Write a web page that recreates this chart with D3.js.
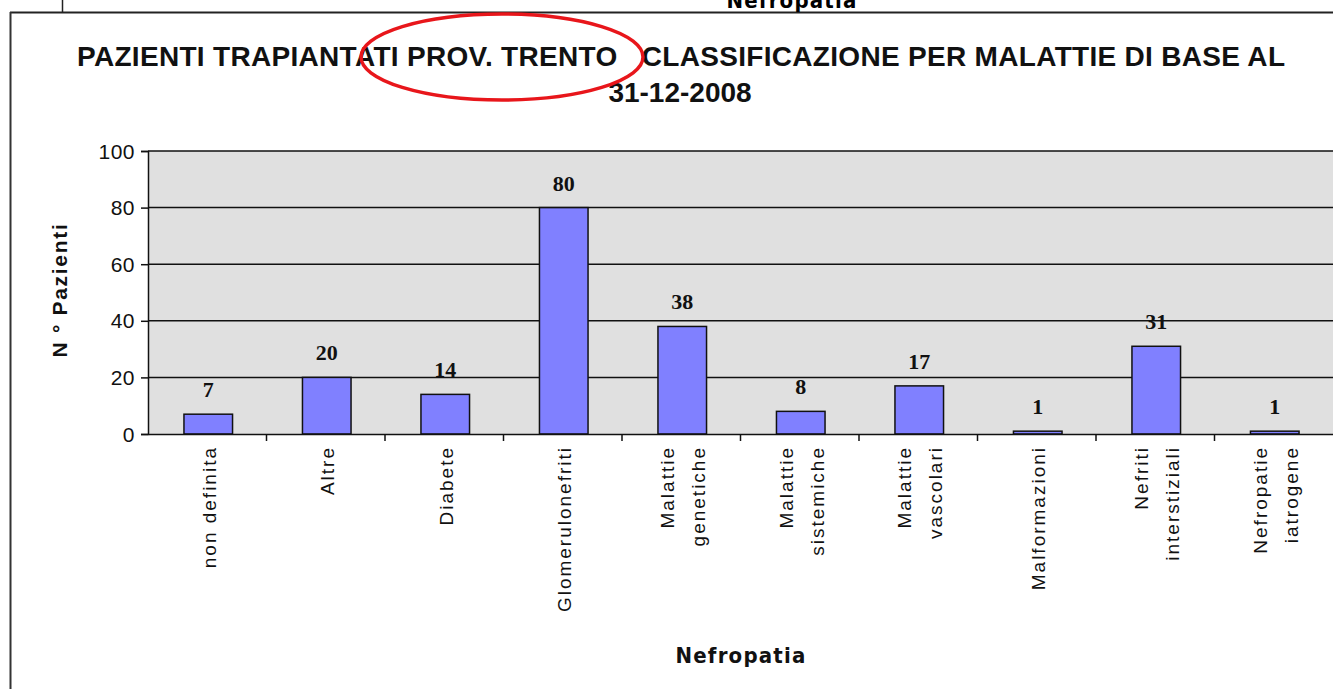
<!DOCTYPE html>
<html><head><meta charset="utf-8">
<script src="https://cdn.jsdelivr.net/npm/d3@7"></script>
<style>html,body{margin:0;padding:0;background:#fff;}svg{display:block;}</style>
</head><body>
<svg id="chart" width="1333" height="689"></svg>
<script>
const categories = [["non definita"],["Altre"],["Diabete"],["Glomerulonefriti"],["Malattie","genetiche"],["Malattie","sistemiche"],["Malattie","vascolari"],["Malformazioni"],["Nefriti","interstiziali"],["Nefropatie","iatrogene"]];
const values = [7,20,14,80,38,8,17,1,31,1];
const yTicks = [0,20,40,60,80,100];
const titleLines = ["PAZIENTI TRAPIANTATI PROV. TRENTO   CLASSIFICAZIONE PER MALATTIE DI BASE AL","31-12-2008"];
const yTitle = "N ° Pazienti";
const xTitle = "Nefropatia";

const svg = d3.select("#chart");
const L = 148, R = 1333, T = 151, B = 434;
const keys = categories.map((c,i)=>i);
const x = d3.scaleBand().domain(keys).range([L,R]).paddingInner(0.59).paddingOuter(0.295);
const xb = d3.scaleBand().domain(keys).range([L,R]).padding(0);
const y = d3.scaleLinear().domain([0,100]).range([B,T]);

// outer frame
svg.append("line").attr("x1",10).attr("x2",1333).attr("y1",12.5).attr("y2",12.5).attr("stroke","#222").attr("stroke-width",2);
svg.append("line").attr("x1",10.5).attr("x2",10.5).attr("y1",12).attr("y2",689).attr("stroke","#333").attr("stroke-width",2);
svg.append("line").attr("x1",62.5).attr("x2",62.5).attr("y1",0).attr("y2",12).attr("stroke","#222").attr("stroke-width",1.5);
svg.append("text").attr("x",792).attr("y",8).attr("text-anchor","middle").attr("font-family","DejaVu Sans Condensed, Liberation Sans, sans-serif").attr("font-weight","bold").attr("font-size",22).attr("letter-spacing",1.2).text(xTitle);

// plot background
svg.append("rect").attr("x",L).attr("y",T).attr("width",R-L).attr("height",B-T).attr("fill","#E0E0E0");

// gridlines
svg.append("g").selectAll("line").data(yTicks.filter(d=>d>0)).join("line")
  .attr("x1",L).attr("x2",R).attr("y1",d=>y(d)).attr("y2",d=>y(d))
  .attr("stroke","#111").attr("stroke-width",1.5);

// bars
svg.append("g").selectAll("rect").data(values).join("rect")
  .attr("x",(d,i)=>x(i)+1).attr("width",x.bandwidth())
  .attr("y",d=>y(d)).attr("height",d=>B-y(d))
  .attr("fill","#8080FF").attr("stroke","#111").attr("stroke-width",1.5);

// value labels
svg.append("g").selectAll("text").data(values).join("text")
  .attr("x",(d,i)=>x(i)+1+x.bandwidth()/2).attr("y",d=>y(d)-17)
  .attr("text-anchor","middle").attr("font-family","Liberation Serif, serif")
  .attr("font-weight","bold").attr("font-size",22).attr("fill","#111").text(d=>d);

// y axis
const yAxis = svg.append("g").attr("transform",`translate(${L},0)`)
  .call(d3.axisLeft(y).tickValues(yTicks).tickSize(7).tickPadding(6));
yAxis.select(".domain").attr("stroke","#111").attr("stroke-width",1.5);
yAxis.selectAll(".tick line").attr("stroke","#111").attr("stroke-width",1.5);
yAxis.selectAll(".tick text").attr("font-family","Liberation Sans, Arial, sans-serif").attr("font-size",21).attr("letter-spacing",0.5).attr("fill","#111").attr("dy","0.34em");

// x axis
const xAxis = svg.append("g").attr("transform",`translate(0,${B})`)
  .call(d3.axisBottom(xb).tickSize(0).tickFormat(""));
xAxis.select(".domain").attr("stroke","#111").attr("stroke-width",1.5);
xAxis.selectAll(".tick").remove();
svg.append("g").selectAll("line").data(keys.slice(1)).join("line")
  .attr("x1",d=>xb(d)).attr("x2",d=>xb(d)).attr("y1",B).attr("y2",B+7)
  .attr("stroke","#111").attr("stroke-width",1.5);

// x labels
const lab = svg.append("g").selectAll("g").data(categories).join("g")
  .attr("transform",(d,i)=>`translate(${xb(i)+xb.bandwidth()/2+2},446) rotate(-90)`);
lab.each(function(d){
  const g = d3.select(this);
  const n = d.length, gap = 31;
  d.forEach((t,j)=>{
    g.append("text").attr("x",0).attr("y",(j-(n-1)/2)*gap).attr("dy","0.35em")
      .attr("text-anchor","end").attr("font-family","Liberation Sans, Arial, sans-serif")
      .attr("font-size",19).attr("letter-spacing",2).attr("fill","#111").text(t);
  });
});

// titles
const tt = svg.append("text").attr("text-anchor","middle").attr("font-family","Liberation Sans, Arial, sans-serif")
  .attr("font-weight","bold").attr("font-size",28).attr("fill","#111").style("white-space","pre");
tt.append("tspan").attr("x",681).attr("y",66).attr("textLength",1208).attr("lengthAdjust","spacing").style("white-space","pre").text(titleLines[0]);
tt.append("tspan").attr("x",680).attr("y",102).text(titleLines[1]);

svg.append("text").attr("transform","translate(67,290) rotate(-90)").attr("text-anchor","middle")
  .attr("font-family","Liberation Sans, Arial, sans-serif").attr("font-weight","bold").attr("font-size",21).attr("letter-spacing",1.7).attr("fill","#111").text(yTitle);
svg.append("text").attr("x",741).attr("y",663).attr("text-anchor","middle")
  .attr("font-family","DejaVu Sans Condensed, Liberation Sans, sans-serif").attr("font-weight","bold").attr("font-size",22).attr("letter-spacing",1.2).attr("fill","#111").text(xTitle);

// red ellipse annotation
svg.append("ellipse").attr("cx",502).attr("cy",57).attr("rx",141).attr("ry",43)
  .attr("fill","none").attr("stroke","#E8161B").attr("stroke-width",3.5);
</script>
</body></html>
